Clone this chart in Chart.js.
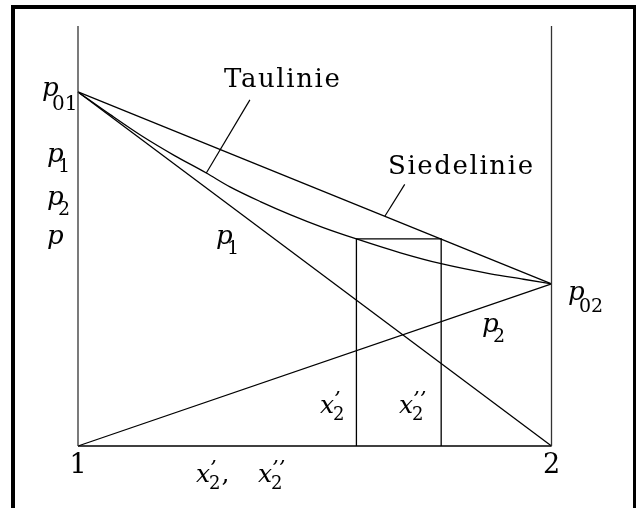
<!DOCTYPE html>
<html>
<head>
<meta charset="utf-8">
<title>Siede- und Taulinie</title>
<script src="https://cdn.jsdelivr.net/npm/chart.js@4/dist/chart.umd.min.js"></script>
<style>
  html, body { margin: 0; padding: 0; background: #fff; overflow: hidden; }
  #wrap { position: relative; width: 636px; height: 508px; overflow: hidden; }
  #frame { position: absolute; left: 11px; top: 5px; width: 626px; height: 530px;
           border: 4px solid #000; box-sizing: border-box; }
  canvas { position: absolute; left: 0; top: 0; }
</style>
</head>
<body>
<div id="wrap">
  <canvas id="chart" width="636" height="508"></canvas>
  <div id="frame"></div>
</div>
<script>
// Abszisse: Molenbruch der Komponente 2 (0 = reine Komponente 1, 1 = reine Komponente 2)
const endValues = [0, 1];
const endLabels = ['1', '2'];
const pTop = 100;
const p01 = 84.3;
const p02 = 38.6;

// Siedelinie (gerade) und Taulinie (gekrümmt)
const siedeX = [0, 1];
const siedeP = [p01, p02];
const tauX = [0, 0.068, 0.135, 0.203, 0.271, 0.321, 0.385, 0.448, 0.518, 0.588, 0.681, 0.767, 0.871, 0.941, 1];
const tauP = [84.3, 78.9, 73.8, 69.2, 65.0, 61.7, 58.2, 55.1, 52.0, 49.3, 46.0, 43.4, 41.0, 39.7, 38.6];

// Partialdrücke
const p1X = [0, 1];
const p1P = [p01, 0];
const p2X = [0, 1];
const p2P = [0, p02];

// Konode bei p: flüssig x2', dampfförmig x2''
const xLiq = 0.588;
const xVap = 0.767;
const pTie = 49.3;

// Hinweisstriche zu den Beschriftungen
const tauPointerX = [0.271, 0.363];
const tauPointerP = [65.0, 82.4];
const siedePointerX = [0.648, 0.690];
const siedePointerP = [54.7, 62.3];

const curveNames = ['Siedelinie', 'Taulinie'];

function pts(xs, ys) {
  return xs.map((x, i) => ({ x: x, y: ys[i] }));
}

function line(data, extra) {
  return Object.assign({
    data: data,
    showLine: true,
    borderColor: '#000',
    borderWidth: 1.3,
    pointRadius: 0,
    fill: false,
    tension: 0,
    clip: false
  }, extra || {});
}

const datasets = [
  line(pts([endValues[0], endValues[0]], [0, pTop]), { borderColor: '#333' }),
  line(pts([endValues[1], endValues[1]], [0, pTop]), { borderColor: '#333' }),
  line(pts(endValues, [0, 0])),
  line(pts(siedeX, siedeP)),
  line(pts(tauX, tauP), { cubicInterpolationMode: 'monotone' }),
  line(pts(p1X, p1P)),
  line(pts(p2X, p2P)),
  line(pts([xLiq, xLiq, xVap, xVap], [0, pTie, pTie, 0])),
  line(pts(tauPointerX, tauPointerP), { borderWidth: 1.2 }),
  line(pts(siedePointerX, siedePointerP), { borderWidth: 1.2 })
];

const SERIF = '"DejaVu Serif", "Liberation Serif", serif';

// Formelzeichen: kursiver Buchstabe, Index, optional Striche darüber
function symbol(ctx, main, sub, primes, x, y, opt) {
  const o = Object.assign({ size: 26, subSize: 19, subDx: 11, subDy: 10 }, opt || {});
  ctx.font = 'italic ' + o.size + 'px ' + SERIF;
  ctx.fillText(main, x, y);
  ctx.font = o.subSize + 'px ' + SERIF;
  const sx = x + o.subDx;
  ctx.fillText(sub, sx, y + o.subDy);
  if (primes) {
    ctx.font = 'italic 21px ' + SERIF;
    ctx.fillText(primes, sx + 1, y - 7);
  }
  ctx.font = o.subSize + 'px ' + SERIF;
  return sx + ctx.measureText(sub).width;
}

const labelPlugin = {
  id: 'labels',
  afterDatasetsDraw(chart) {
    const ctx = chart.ctx;
    const xs = chart.scales.x;
    ctx.save();
    ctx.fillStyle = '#000';
    ctx.textBaseline = 'alphabetic';

    ctx.font = '26px ' + SERIF;
    ctx.letterSpacing = '1.6px';
    ctx.textAlign = 'left';
    ctx.fillText(curveNames[1], 224, 87);
    ctx.fillText(curveNames[0], 388, 174);
    ctx.letterSpacing = '0px';

    // Achsenenden 1 und 2
    ctx.font = '27px ' + SERIF;
    ctx.textAlign = 'center';
    endValues.forEach((v, i) => {
      ctx.fillText(endLabels[i], xs.getPixelForValue(v), 473);
    });
    ctx.textAlign = 'left';

    symbol(ctx, 'p', '01', '', 42, 96, { subDx: 10, subDy: 14, subSize: 20 });
    symbol(ctx, 'p', '1', '', 47, 162);
    symbol(ctx, 'p', '2', '', 47, 205);
    ctx.font = 'italic 26px ' + SERIF;
    ctx.fillText('p', 47, 244);

    symbol(ctx, 'p', '1', '', 216, 244);
    symbol(ctx, 'p', '02', '', 568, 300, { subDx: 11, subDy: 12 });
    symbol(ctx, 'p', '2', '', 482, 332);

    const xOpt = { size: 25, subSize: 18, subDx: 13, subDy: 7 };
    symbol(ctx, 'x', '2', '\u2019', 320, 413, xOpt);
    symbol(ctx, 'x', '2', '\u2019\u2019', 399, 413, xOpt);

    const end = symbol(ctx, 'x', '2', '\u2019', 196, 482, xOpt);
    ctx.font = '25px ' + SERIF;
    ctx.fillText(',', end + 1, 482);
    symbol(ctx, 'x', '2', '\u2019\u2019', 258, 482, xOpt);

    ctx.restore();
  }
};

new Chart(document.getElementById('chart').getContext('2d'), {
  type: 'scatter',
  data: { datasets: datasets },
  options: {
    responsive: false,
    animation: false,
    events: [],
    layout: { padding: { left: 78, right: 84.5, top: 26, bottom: 62 } },
    scales: {
      x: { type: 'linear', min: 0, max: 1, display: false },
      y: { type: 'linear', min: 0, max: pTop, display: false }
    },
    plugins: { legend: { display: false }, tooltip: { enabled: false } }
  },
  plugins: [labelPlugin]
});
</script>
</body>
</html>
